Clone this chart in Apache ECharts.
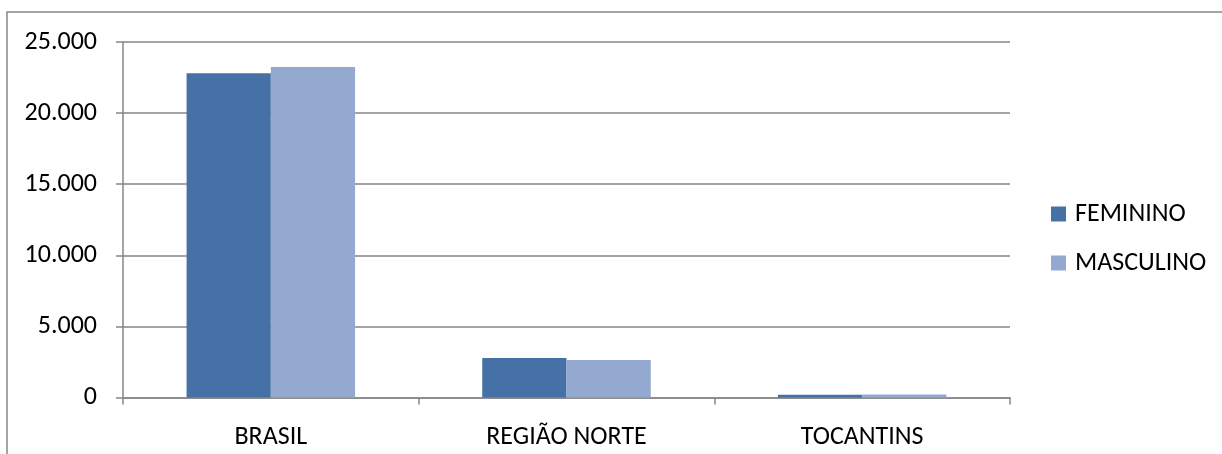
<!DOCTYPE html>
<html>
<head>
<meta charset="utf-8">
<script src="https://cdn.jsdelivr.net/npm/echarts@6/dist/echarts.min.js"></script>
<style>
  html, body { margin: 0; padding: 0; background: #ffffff; }
  #chart { width: 1222px; height: 454px; }
</style>
</head>
<body>
<div id="chart"></div>
<script>
// Regions compared
const categories = ['BRASIL', 'REGIÃO NORTE', 'TOCANTINS'];
// Counts by sex
const feminino = [22800, 2775, 200];
const masculino = [23250, 2635, 210];
const seriesNames = ['FEMININO', 'MASCULINO'];
// Value axis settings
const yMin = 0;
const yMax = 25000;
const yStep = 5000;

const FONT = "Carlito, 'Open Sans', sans-serif";
const GRAY = '#868686';

function fmt(v) {
  return String(v).replace(/\B(?=(\d{3})+(?!\d))/g, '.');
}

const chart = echarts.init(document.getElementById('chart'), null, { renderer: 'canvas' });

chart.setOption({
  animation: false,
  backgroundColor: '#ffffff',
  graphic: [{
    type: 'rect',
    shape: { x: 7, y: 12, width: 1400, height: 600 },
    style: { fill: 'none', stroke: GRAY, lineWidth: 1.5 },
    silent: true,
    z: 0
  }],
  grid: { left: 123, right: 212, top: 42, bottom: 56.5, containLabel: false },
  legend: {
    orient: 'vertical',
    left: 1051,
    top: 201,
    padding: 0,
    itemWidth: 15,
    itemHeight: 15,
    itemGap: 23,
    icon: 'rect',
    textStyle: { fontFamily: FONT, fontSize: 26, color: '#000', padding: [0, 0, 0, 4] },
    data: seriesNames
  },
  xAxis: {
    type: 'category',
    data: categories,
    axisLine: { lineStyle: { color: GRAY, width: 1.5 } },
    axisTick: { show: true, length: 7, lineStyle: { color: GRAY, width: 1.5 } },
    axisLabel: { fontFamily: FONT, fontSize: 26, color: '#000', margin: 27 }
  },
  yAxis: {
    type: 'value',
    min: yMin,
    max: yMax,
    interval: yStep,
    axisLine: { show: true, lineStyle: { color: GRAY, width: 1.5 } },
    axisTick: { show: true, length: 7, lineStyle: { color: GRAY, width: 1.5 } },
    splitLine: { show: true, lineStyle: { color: GRAY, width: 1.5 } },
    axisLabel: { fontFamily: FONT, fontSize: 26, color: '#000', margin: 26, formatter: fmt }
  },
  series: [
    {
      name: seriesNames[0],
      type: 'bar',
      data: feminino,
      barGap: '0%',
      barCategoryGap: '43%',
      itemStyle: { color: '#4571A6' }
    },
    {
      name: seriesNames[1],
      type: 'bar',
      data: masculino,
      barGap: '0%',
      barCategoryGap: '43%',
      itemStyle: { color: '#93A9D0' }
    }
  ]
});
</script>
</body>
</html>
